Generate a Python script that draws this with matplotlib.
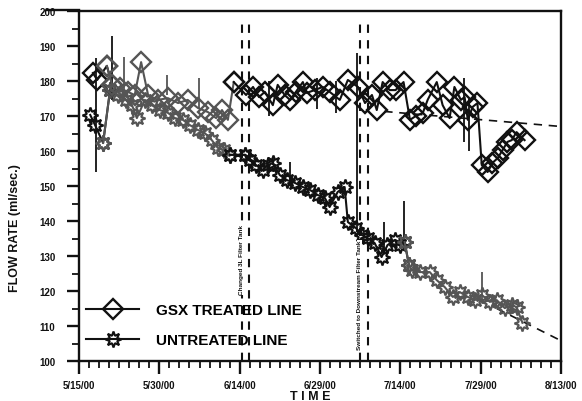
import matplotlib
matplotlib.use("Agg")
import matplotlib.pyplot as plt
from matplotlib.lines import Line2D
from matplotlib.ticker import MultipleLocator, FixedLocator

plt.rcParams['font.family'] = ['Liberation Sans', 'DejaVu Sans']

# ---- data (x = days since 5/15/00) ----
x_tick_days = [0, 15, 30, 45, 60, 75, 90]
x_tick_labels = ["5/15/00", "5/30/00", "6/14/00", "6/29/00", "7/14/00", "7/29/00", "8/13/00"]
y_ticks = [100, 110, 120, 130, 140, 150, 160, 170, 180, 190, 200]

gsx_days = [2.6, 3.4, 5.2, 6.2, 7.6, 9.1, 10.4, 11.6, 12.9, 14.7,
            16.6, 18.5, 20.3, 22.2, 24.1, 25.6, 26.7, 27.8, 28.9, 31.2,
            32.5, 33.6, 34.7, 36.2, 37.1, 38.4, 39.4, 40.5, 41.8, 42.5,
            44.0, 45.5, 46.8, 48.7, 50.2, 52.1, 53.4, 54.7, 55.6, 56.7,
            58.0, 59.1, 60.6, 61.8, 62.9, 64.2, 65.1, 66.8, 67.9, 69.2,
            70.1, 71.3, 72.0, 72.6, 73.5, 74.4, 75.2, 76.3, 77.2, 78.2,
            79.1, 80.0, 80.8, 81.7, 83.2]
gsx_vals = [182.3, 180.3, 184.3, 178.9, 178, 176.9, 176, 185.4, 176, 174.6,
            175.1, 173.7, 174.6, 172.3, 171.1, 169.4, 171.7, 168.9, 179.7, 176,
            178.3, 175.4, 176.9, 173.1, 178.9, 176, 174.6, 176.9, 179.7, 176.6,
            177.4, 178.3, 176.9, 174.6, 180.3, 178.3, 173.7, 176, 171.7, 179.7,
            177.4, 177.4, 179.7, 168.9, 170, 170.9, 174.6, 179.7, 173.1, 169.4,
            178.3, 174.6, 175.4, 168.9, 172.6, 173.7, 156, 154, 156.6, 158,
            160.3, 162.6, 163.1, 165.4, 163.1]

unt_days = [2.1, 3.0, 4.5, 5.8, 7.3, 8.8, 9.9, 10.8, 12.3, 13.6,
            15.1, 16.6, 17.9, 19.4, 20.7, 22.2, 23.5, 24.8, 25.9, 27.1,
            28.2, 31.0, 31.9, 33.0, 34.3, 35.3, 36.2, 37.5, 38.8, 40.3,
            41.8, 43.1, 44.6, 45.9, 46.8, 48.3, 49.6, 50.2, 51.7, 52.8,
            53.9, 55.2, 56.5, 57.6, 59.0, 59.9, 60.8, 61.6, 62.1, 63.6,
            65.5, 66.8, 68.3, 69.8, 71.1, 72.6, 73.9, 75.2, 76.7, 78.0,
            79.5, 80.8, 81.7, 82.8]
unt_vals = [170.3, 167.4, 162.3, 177.4, 176, 174.6, 173.1, 169.4, 174.6, 173.1,
            171.7, 170.9, 169.4, 168.9, 167.4, 166, 165.1, 163.1, 160.9, 160.3,
            158.9, 158.9, 157.4, 156, 154.6, 156, 156.6, 153.1, 151.7, 150.9,
            149.7, 148.9, 147.4, 146.6, 144, 148.3, 149.7, 139.7, 138, 136,
            135.1, 133.7, 129.7, 133.1, 134.6, 133.1, 134, 127.5, 126, 125.4,
            125.4, 123.1, 121.1, 118.3, 119.7, 118.3, 117.4, 118.9, 116.9, 117.4,
            115.1, 116, 115.4, 110.9]

# short spikes in the raw record (day, low, high)
spike_days = [3.2, 6.2, 8.4, 16.4, 22.4, 35.5, 39.4, 44.5, 48.0, 51.9, 56.9, 60.6, 71.8, 72.8, 75.2]
spike_lo = [154, 174.6, 176, 176, 172, 170, 150, 172, 171, 137, 132, 132, 162.6, 160, 117]
spike_hi = [186.6, 193, 186.9, 181.7, 180.9, 180, 157, 181, 180, 188, 139.7, 145.7, 181, 175, 125.4]
spike_gray = [False, False, True, True, True, False, False, False, False, False, False, False, False, False, True]

# dashed trend lines (day, value)
gsx_trend_days = [57, 90]
gsx_trend_vals = [171.3, 167.0]
unt_trend_days = [78, 90]
unt_trend_vals = [115.0, 105.8]

# event lines
event_days = [30.4, 31.7, 52.4, 53.9]
event_texts = ["Changed 3L Filter Tank", "Switched to Downstream Filter Tank"]
event_text_days = [30.4, 52.4]
event_text_y = [129.0, 119.0]

BLACK = "#111111"
GRAY = "#555555"

fig = plt.figure(figsize=(5.82, 4.02), dpi=100)
ax = fig.add_axes([79/582, 1-362/402, (561-79)/582, (362-12)/402])
ax.set_xlim(0, 90)
ax.set_ylim(100, 200)

def seg(days, vals, lo, hi):
    d = [a for a in days if lo <= a <= hi]
    v = [b for a, b in zip(days, vals) if lo <= a <= hi]
    return d, v

diamond = dict(marker='D', markersize=10, markerfacecolor='none', markeredgewidth=1.7)
star = dict(marker=(8, 1, 0), markersize=11.5, markerfacecolor='none', markeredgewidth=1.5)

# trend lines
ax.plot(gsx_trend_days, gsx_trend_vals, ls=(0, (5, 4)), color=BLACK, lw=1.2, zorder=1)
ax.plot(unt_trend_days, unt_trend_vals, ls=(0, (5, 4)), color=BLACK, lw=1.2, zorder=1)

# spikes
for d, lo, hi, g in zip(spike_days, spike_lo, spike_hi, spike_gray):
    ax.vlines(d, lo, hi, color=GRAY if g else BLACK, lw=1.3, zorder=2)

# untreated series
for lo, hi, c in [(0, 5.8, BLACK), (4.5, 31.0, GRAY), (28.2, 61.6, BLACK), (60.8, 90, GRAY)]:
    d, v = seg(unt_days, unt_vals, lo, hi)
    ax.plot(d, v, color=c, lw=1.5, markeredgecolor=c, zorder=3, **star)

# GSX series
for lo, hi, c in [(0, 6.2, BLACK), (5.2, 28.9, GRAY), (28.9, 90, BLACK)]:
    d, v = seg(gsx_days, gsx_vals, lo, hi)
    ax.plot(d, v, color=c, lw=1.5, markeredgecolor=c, zorder=4, **diamond)

# event dashed lines
for d in event_days:
    ax.axvline(d, ymin=0, ymax=0.975, color=BLACK, lw=1.5, ls=(0, (4, 3.5)), zorder=5)
for d, t, y in zip(event_text_days, event_texts, event_text_y):
    ax.text(d, y, t, rotation=90, ha='center', va='center', fontsize=4.6,
            fontweight='bold', color=BLACK, zorder=6,
            bbox=dict(facecolor='white', edgecolor='none', pad=0.2))

# axes styling
for s in ax.spines.values():
    s.set_linewidth(1.7)
    s.set_color(BLACK)
ax.xaxis.set_major_locator(FixedLocator(x_tick_days))
ax.set_xticklabels(x_tick_labels)
ax.xaxis.set_minor_locator(MultipleLocator(15/8))
ax.yaxis.set_major_locator(FixedLocator(y_ticks))
ax.set_yticklabels([str(v) for v in y_ticks])
ax.yaxis.set_minor_locator(MultipleLocator(5))
ax.tick_params(which='major', direction='out', length=9, width=1.7, labelsize=7, colors=BLACK)
ax.tick_params(axis='y', which='major', pad=8)
ax.tick_params(axis='x', which='major', pad=5)
ax.tick_params(which='minor', direction='out', length=5, width=1.3, colors=BLACK)
for lab in ax.get_xticklabels() + ax.get_yticklabels():
    lab.set_fontweight('bold')

fig.text(15/582, 1-228/402, "FLOW RATE (ml/sec.)", rotation=90, ha='center', va='center',
         fontsize=9, fontweight='bold', color=BLACK)
fig.text(310/582, 1-397/402, "T I M E", ha='center', va='center',
         fontsize=9, fontweight='bold', color=BLACK)
fig.add_artist(Line2D([47/582, 79/582], [1-10.5/402, 1-10.5/402], color=BLACK, lw=1.7))

handles = [Line2D([], [], color=BLACK, lw=1.5, markeredgecolor=BLACK, **diamond),
           Line2D([], [], color=BLACK, lw=1.5, markeredgecolor=BLACK, **star)]
ax.legend(handles, ["GSX TREATED LINE", "UNTREATED LINE"], loc='upper left',
          bbox_to_anchor=(0.0145, 0.166), frameon=False, borderpad=0, borderaxespad=0,
          handlelength=3.5, handletextpad=1.1, labelspacing=1.05,
          prop=dict(weight='bold', size=11))

fig.savefig("out.png", dpi=100, facecolor='white')
